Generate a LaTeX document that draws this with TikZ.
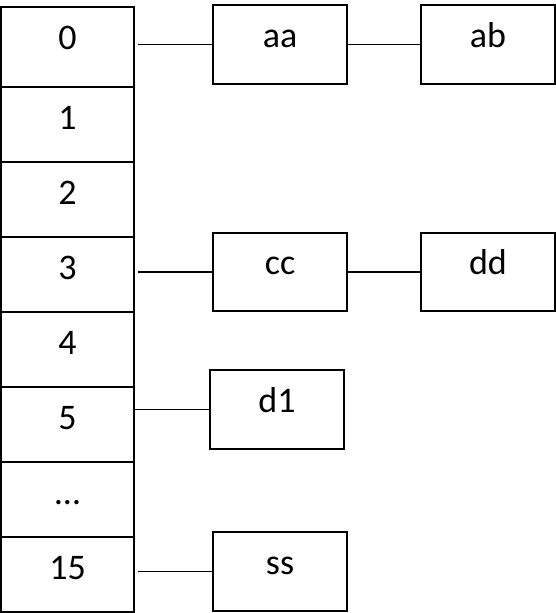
\documentclass[tikz,border=0pt]{standalone}
\usepackage{fontspec}
\setmainfont{Carlito}
\begin{document}
\begin{tikzpicture}[x=1bp,y=1bp,
  box/.style={draw, line width=1.8bp, rectangle, inner sep=0pt, outer sep=0pt, minimum width=134bp, minimum height=79bp},
  cell/.style={draw, line width=2bp, rectangle, inner sep=0pt, outer sep=0pt, minimum width=133bp, minimum height=75bp},
  txt/.style={anchor=base, inner sep=0pt, outer sep=0pt, font=\fontsize{36bp}{40bp}\selectfont},
  link/.style={line width=1.8bp}]
\useasboundingbox (0,0) rectangle (556,613);
% column cells
\node[cell, minimum height=80bp] (c0) at (67.5,566) {};
\node[cell] (c1) at (67.5,488.5) {};
\node[cell] (c2) at (67.5,413.5) {};
\node[cell] (c3) at (67.5,338.5) {};
\node[cell] (c4) at (67.5,263.5) {};
\node[cell] (c5) at (67.5,188.5) {};
\node[cell] (c6) at (67.5,113.5) {};
\node[cell] (c7) at (67.5,38.5) {};
\node[txt] (t0) at ([yshift=-43bp]c0.north) {0};
\node[txt] (t1) at ([yshift=-43bp]c1.north) {1};
\node[txt] (t2) at ([yshift=-43bp]c2.north) {2};
\node[txt] (t3) at ([yshift=-43bp]c3.north) {3};
\node[txt] (t4) at ([yshift=-43bp]c4.north) {4};
\node[txt] (t5) at ([yshift=-43bp]c5.north) {5};
\node[txt] (t6) at ([yshift=-43bp]c6.north) {…};
\node[txt] (t7) at ([yshift=-43bp]c7.north) {15};
% list boxes
\node[box] (aa) at (280,568.5) {};
\node[box] (ab) at (488,568.5) {};
\node[box, minimum height=78bp] (cc) at (280,341) {};
\node[box, minimum height=78bp] (dd) at (488,341) {};
\node[box] (d1) at (277,203.5) {};
\node[box] (ss) at (280,41.5) {};
\node[txt] (taa) at ([yshift=-43bp]aa.north) {aa};
\node[txt] (tab) at ([yshift=-43bp]ab.north) {ab};
\node[txt] (tcc) at ([yshift=-42bp]cc.north) {cc};
\node[txt] (tdd) at ([yshift=-42bp]dd.north) {dd};
\node[txt] (td1) at ([yshift=-43bp]d1.north) {d1};
\node[txt] (tss) at ([yshift=-43bp]ss.north) {ss};
% connectors
\draw[link, shorten >=4bp] (aa.west) -- (c0.east |- aa.west);
\draw[link] (aa.east) -- (ab.west);
\draw[link, shorten >=4bp] (cc.west) -- (c3.east |- cc.west);
\draw[link] (cc.east) -- (dd.west);
\draw[link] (d1.west) -- (c5.east |- d1.west);
\draw[link, shorten >=4bp] (ss.west) -- (c7.east |- ss.west);
\end{tikzpicture}
\end{document}
